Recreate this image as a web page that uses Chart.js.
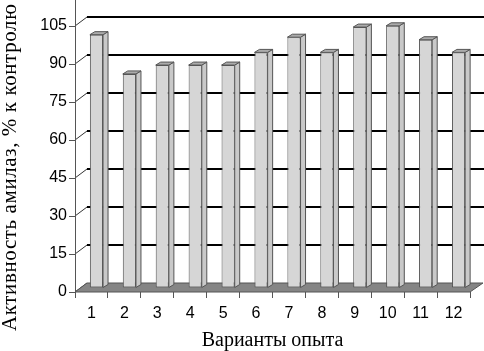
<!DOCTYPE html>
<html><head><meta charset="utf-8">
<script src="https://cdn.jsdelivr.net/npm/chart.js@4/dist/chart.umd.min.js"></script>
<style>html,body{margin:0;padding:0;background:#fff;}#wrap{width:484px;height:351px;}</style>
</head><body><div id="wrap"><canvas id="c" width="484" height="351"></canvas></div>
<script>
const categories = ['1','2','3','4','5','6','7','8','9','10','11','12'];
const activity = [100, 84.5, 88, 88, 88, 93, 99, 93, 103, 103.5, 98, 93];
const yTicks = [0, 15, 30, 45, 60, 75, 90, 105];
const xTitle = 'Варианты опыта';
const yTitle = 'Активность амилаз, % к контролю';

const WALL_DX = 12, WALL_DY = -9;   // back wall offset
const BAR_DX = 5, BAR_DY = -4;      // bar front face offset from front plane
const DEP_DX = 5, DEP_DY = -3;      // bar depth

const sans = "'Liberation Sans', Arial, sans-serif";
const serif = "'Liberation Serif', 'Times New Roman', serif";

const threeD = {
  id: 'threeD',
  beforeDatasetsDraw(chart) {
    const {ctx, chartArea: a, scales: {y}} = chart;
    ctx.save();
    yTicks.forEach(v => {
      const py = y.getPixelForValue(v);
      if (v > 0) {
        ctx.beginPath();
        ctx.moveTo(a.left + WALL_DX, py + WALL_DY);
        ctx.lineTo(chart.width, py + WALL_DY);
        ctx.lineWidth = 2; ctx.strokeStyle = '#000';
        ctx.stroke();
      }
      ctx.beginPath();
      ctx.moveTo(a.left, py);
      ctx.lineTo(a.left + WALL_DX, py + WALL_DY);
      ctx.lineWidth = 1; ctx.strokeStyle = '#333';
      ctx.stroke();
    });
    const y0 = y.getPixelForValue(0);
    ctx.beginPath();
    ctx.moveTo(a.left, y0);
    ctx.lineTo(a.right, y0);
    ctx.lineTo(a.right + WALL_DX + 1, y0 + WALL_DY);
    ctx.lineTo(a.left + WALL_DX, y0 + WALL_DY);
    ctx.closePath();
    ctx.fillStyle = '#858585';
    ctx.fill();
    ctx.lineWidth = 1; ctx.strokeStyle = '#555';
    ctx.stroke();
    ctx.beginPath();
    ctx.moveTo(a.left + 0.5, 0);
    ctx.lineTo(a.left + 0.5, y0);
    ctx.strokeStyle = '#555';
    ctx.stroke();
    ctx.restore();
    ctx.save();
    ctx.translate(BAR_DX, BAR_DY);
  },
  afterDatasetsDraw(chart) {
    const {ctx} = chart;
    ctx.restore();
    const meta = chart.getDatasetMeta(0);
    ctx.save();
    ctx.lineWidth = 1; ctx.strokeStyle = '#555';
    meta.data.forEach(bar => {
      const p = bar.getProps(['x', 'y', 'base', 'width'], true);
      const l = p.x - p.width / 2 + BAR_DX, r = p.x + p.width / 2 + BAR_DX;
      const t = p.y + BAR_DY, b = p.base + BAR_DY;
      ctx.beginPath();
      ctx.moveTo(r, t); ctx.lineTo(r + DEP_DX, t + DEP_DY);
      ctx.lineTo(r + DEP_DX, b + DEP_DY); ctx.lineTo(r, b); ctx.closePath();
      ctx.fillStyle = '#c9c9c9'; ctx.fill(); ctx.stroke();
      ctx.beginPath();
      ctx.moveTo(l, t); ctx.lineTo(r, t);
      ctx.lineTo(r + DEP_DX, t + DEP_DY); ctx.lineTo(l + DEP_DX, t + DEP_DY); ctx.closePath();
      ctx.fillStyle = '#ababab'; ctx.fill(); ctx.stroke();
    });
    ctx.restore();
  },
  afterDraw(chart) {
    const {ctx} = chart;
    ctx.save();
    ctx.translate(16, 331);
    ctx.rotate(-Math.PI / 2);
    ctx.font = '21px ' + serif;
    ctx.fillStyle = '#000';
    ctx.textAlign = 'left';
    ctx.textBaseline = 'alphabetic';
    try { ctx.letterSpacing = '0.6px'; } catch (e) {}
    ctx.fillText(yTitle, 0, 0);
    ctx.restore();
  }
};

new Chart(document.getElementById('c'), {
  type: 'bar',
  data: {
    labels: categories,
    datasets: [{
      data: activity,
      backgroundColor: '#d6d6d6',
      borderColor: '#555',
      borderWidth: 1,
      borderSkipped: false,
      barPercentage: 0.4,
      categoryPercentage: 1.0
    }]
  },
  options: {
    responsive: false,
    devicePixelRatio: 1,
    animation: false,
    events: [],
    layout: {padding: {top: 26, right: 14, left: 0, bottom: 0}},
    plugins: {legend: {display: false}, tooltip: {enabled: false}},
    scales: {
      x: {
        afterFit(s) { s.height = 59; },
        grid: {drawOnChartArea: false, drawTicks: true, tickLength: 6, color: '#555', offset: true},
        border: {display: false},
        ticks: {color: '#000', font: {family: sans, size: 16}, padding: 6, maxRotation: 0, autoSkip: false},
        title: {display: true, text: xTitle, color: '#000', font: {family: serif, size: 20, lineHeight: 1.0}, padding: 0}
      },
      y: {
        min: 0, max: 105,
        afterFit(s) { s.width = 75; },
        afterBuildTicks(s) { s.ticks = yTicks.map(v => ({value: v})); },
        grid: {drawOnChartArea: false, drawTicks: true, tickLength: 6, color: '#555'},
        border: {display: false},
        ticks: {color: '#000', font: {family: sans, size: 16}, padding: 2},
        title: {display: false}
      }
    }
  },
  plugins: [threeD]
});
</script>
</body></html>
